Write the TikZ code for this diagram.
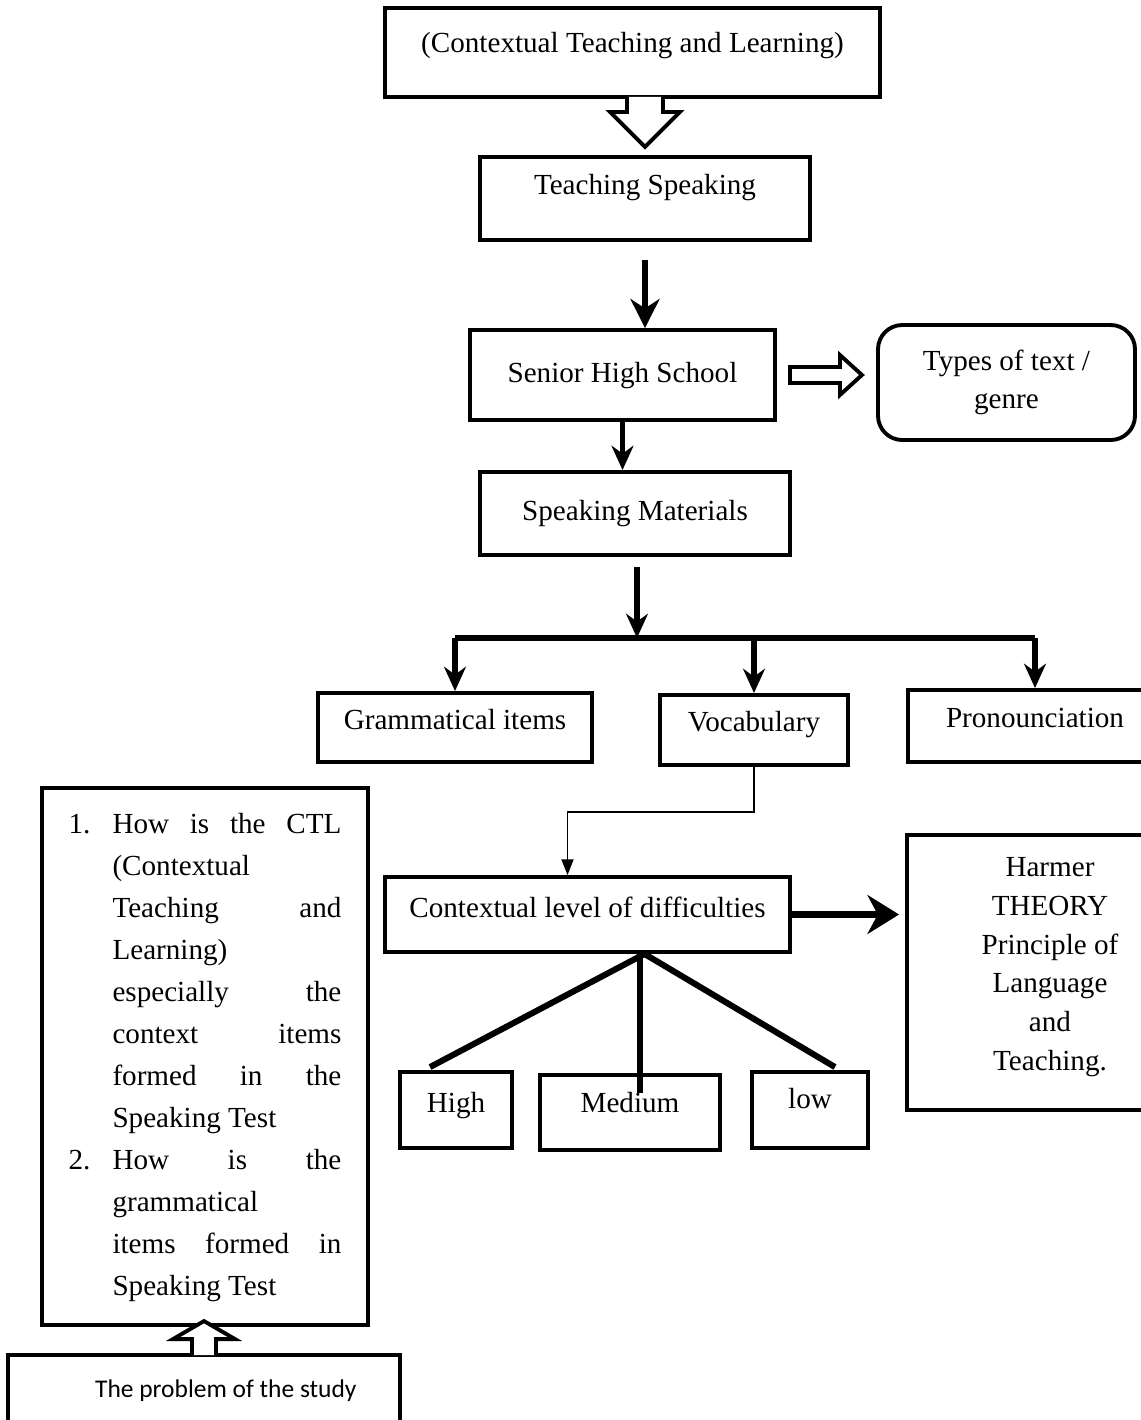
\documentclass[tikz,border=0pt]{standalone}
\usepackage{fontspec}
\setmainfont{Liberation Serif}
\newfontfamily\calibri{Carlito}
\usetikzlibrary{arrows.meta,calc}

\newcommand{\pxu}{0.412pt}
\newcommand{\stretchline}[1]{\makebox[\linewidth][s]{#1}}

\tikzset{
  box/.style={draw, line width=1.6pt, inner sep=0pt,
    font=\fontsize{12}{15.5}\selectfont},
  boxsize/.style 2 args={minimum width=#1*\pxu, minimum height=#2*\pxu},
  textup/.style={text height=9pt, text depth=#1},
  hollow/.style={draw, fill=white, line width=1.6pt, line join=miter},
  bigarrow/.style={line width=2.8pt, -{Stealth[length=12pt,width=12pt]}},
  medarrow/.style={line width=2.2pt, -{Stealth[length=10pt,width=9pt]}},
  thinarrow/.style={line width=0.6pt, -{Triangle[length=6.5pt,width=5pt]}},
  leg/.style={line width=2.5pt},
}

\begin{document}
\begin{tikzpicture}[x=\pxu, y=-\pxu]
\useasboundingbox (0,0) rectangle (1141,1420);

% main chain
\node[box, boxsize={495}{89}, textup=9.2pt] (ctl) at (632.5,52.5) {(Contextual Teaching and Learning)};
\node[box, boxsize={330}{83}, textup=12.5pt] (teach) at (645,198.5) {Teaching Speaking};
\node[box, boxsize={305}{90}, textup=3pt] (shs) at (622.5,375) {Senior High School};
\node[box, boxsize={257}{115}, rounded corners=10pt, align=center,
  font=\fontsize{12}{15.7}\selectfont] (genre) at (1006.5,382.5) {Types of text /\\genre};
\node[box, boxsize={310}{83}, textup=3pt] (mat) at (635,513.5) {Speaking Materials};

% materials
\node[box, boxsize={274}{69}, textup=7.5pt] (gram) at (455,727.5) {Grammatical items};
\node[box, boxsize={188}{70}, textup=7.9pt] (vocab) at (754,730) {Vocabulary};
\node[box, boxsize={254}{72}, textup=7.9pt] (pron) at (1035,726) {Pronounciation};

% difficulty levels
\node[box, boxsize={405}{75}, textup=6.7pt] (level) at (587.5,914.5) {Contextual level of difficulties};
\node[box, boxsize={286}{275},
  label={[align=center, yshift=2.2pt, font=\fontsize{12}{16}\selectfont]center:Harmer\\THEORY\\Principle of\\Language\\and\\Teaching.}]
  (harmer) at (1050,972.5) {};
\node[box, boxsize={112}{76}, textup=7.1pt] (high) at (456,1110) {High};
\node[box, boxsize={180}{75}, textup=9.2pt] (medium) at (630,1112.5) {Medium};
\node[box, boxsize={116}{76}, textup=10.4pt] (low) at (810,1110) {low};

% research questions
\node[box, boxsize={326}{537}, font=\fontsize{12}{17.3}\selectfont] (quest) at (205,1056.5) {%
  \begin{tabular}{@{}p{18.1pt}@{}p{94.3pt}@{}}
  1. & \stretchline{How is the CTL}\\
     & (Contextual\\
     & \stretchline{Teaching and}\\
     & Learning)\\
     & \stretchline{especially the}\\
     & \stretchline{context items}\\
     & \stretchline{formed in the}\\
     & Speaking Test\\
  2. & \stretchline{How is the}\\
     & grammatical\\
     & \stretchline{items formed in}\\
     & Speaking Test
  \end{tabular}};
\node[box, boxsize={392}{70}, textup=3pt, font=\calibri\fontsize{10.5}{13}\selectfont]
  (problem) at (204,1390) {\hspace*{18pt}The problem of the study};

% connectors
\filldraw[hollow, shift={(ctl.south -| teach.north)}]
  (-18,-2) -- (-18,13) -- (-35,13) -- (0,48) -- (35,13) -- (18,13) -- (18,-2);
\draw[bigarrow] ($(teach.south)+(0,18)$) -- (teach.south |- shs.north);
\filldraw[hollow, shift={(shs.east)}]
  (13,-8) -- (63,-8) -- (63,-20) -- (85,0) -- (63,20) -- (63,8) -- (13,8) -- cycle;
\draw[medarrow] (shs.south) -- (shs.south |- mat.north);

\coordinate (bar) at (637,638);
\draw[medarrow] ($(mat.south)+(2,10)$) -- (bar);
\draw[line width=2.2pt] (gram.north |- bar) -- (pron.north |- bar);
\draw[medarrow] (gram.north |- bar) -- (gram.north);
\draw[medarrow] (vocab.north |- bar) -- (vocab.north);
\draw[medarrow] (pron.north |- bar) -- (pron.north);

\draw[thinarrow] (vocab.south) -- ++(0,45) -| ($(level.north)+(-20,0)$);
\draw[line width=3pt, -{Stealth[length=13pt,width=16pt]}]
  (level.east) -- ($(harmer.west |- level.east)+(-6,0)$);

\coordinate (apex) at ($(level.south)+(57,0)$);
\coordinate (midleg) at ($(medium.north)+(10,20)$);
\draw[leg] (apex) -- ($(high.north)+(-26,-3)$);
\draw[leg] (level.south -| midleg) -- (midleg);
\draw[leg] (apex) -- ($(low.north)+(25,-3)$);

\filldraw[hollow, shift={(problem.north)}]
  (-12,2) -- (-12,-14) -- (-31,-14) -- (0,-32) -- (31,-14) -- (12,-14) -- (12,2);
\end{tikzpicture}
\end{document}
